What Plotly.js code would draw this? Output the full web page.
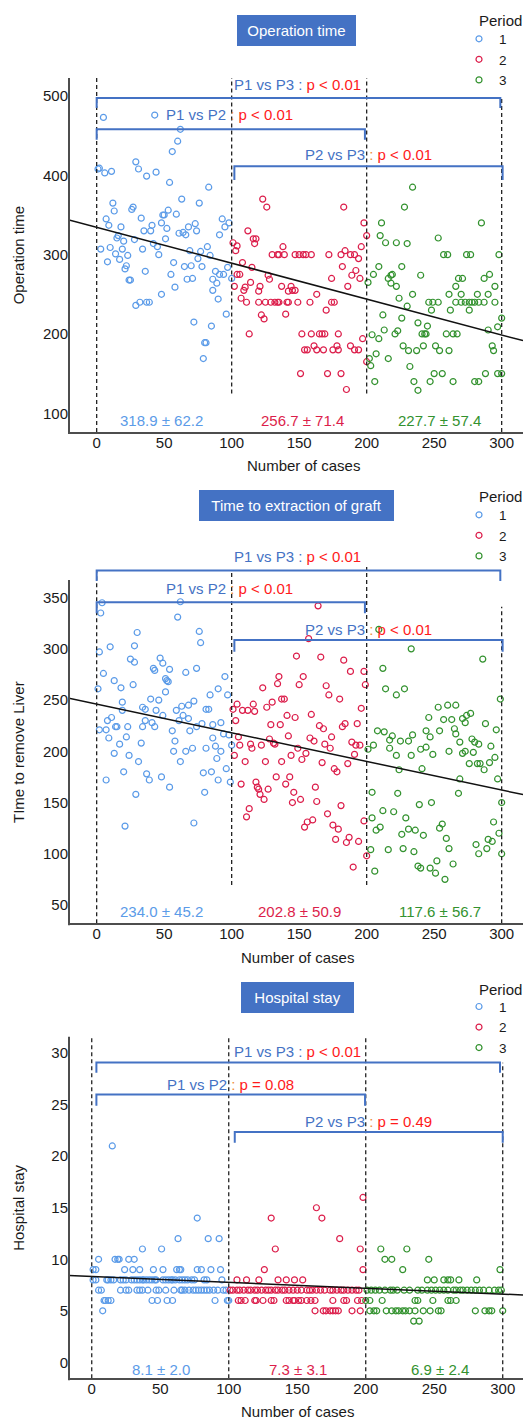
<!DOCTYPE html>
<html><head><meta charset="utf-8">
<script src="https://cdn.plot.ly/plotly-3.0.1.min.js"></script>
<style>html,body{margin:0;padding:0;background:#fff}#chart{width:523px;height:1419px}</style>
</head><body><div id="chart"></div>
<script>
// ---------------- DATA ----------------
const periods = ['1', '2', '3'];
const xTicks = [0, 50, 100, 150, 200, 250, 300];
const periodBounds = [0, 100, 200, 300];

const opTicks = [100, 200, 300, 400, 500];
const grTicks = [50, 100, 150, 200, 250, 300, 350];
const hsTicks = [0, 5, 10, 15, 20, 25, 30];

const opMeans = ['318.9 ± 62.2', '256.7 ± 71.4', '227.7 ± 57.4'];
const grMeans = ['234.0 ± 45.2', '202.8 ± 50.9', '117.6 ± 56.7'];
const hsMeans = ['8.1 ± 2.0', '7.3 ± 3.1', '6.9 ± 2.4'];

// p-values: P1 vs P3, P1 vs P2, P2 vs P3
const opPvals = ['< 0.01', '< 0.01', '< 0.01'];
const grPvals = ['< 0.01', '< 0.01', '< 0.01'];
const hsPvals = ['< 0.01', '= 0.08', '= 0.49'];
const comparisons = ['P1 vs P3', 'P1 vs P2', 'P2 vs P3'];

// regression line: [intercept, slope]
const opFit = [334.5, -0.4526];
const grFit = [246.0, -0.2795];
const hsFit = [8.32, -0.00567];

// Operation time: [case, minutes]
const opP1 = [[5,473],[43,476],[62,458],[60,443],[56,430],[29,417],[2,409],[1,408],[6,403],[11,405],[31,408],[37,399],[44,404],[54,391],[83,385],[63,370],[12,365],[27,360],[26,357],[13,355],[53,356],[50,350],[49,350],[59,351],[76,365],[33,346],[7,345],[9,337],[18,335],[48,340],[41,337],[35,330],[40,330],[52,333],[68,335],[73,339],[74,330],[93,345],[95,335],[98,340],[61,327],[64,328],[66,325],[91,325],[16,324],[15,321],[20,317],[28,319],[42,314],[51,320],[45,310],[3,307],[10,309],[34,307],[14,301],[19,307],[23,299],[17,294],[8,291],[46,300],[69,305],[77,304],[82,310],[84,299],[75,295],[57,290],[65,285],[70,286],[78,285],[22,286],[21,282],[36,279],[55,275],[67,269],[71,270],[24,268],[25,268],[88,279],[91,275],[94,275],[97,284],[86,269],[89,264],[58,259],[86,255],[90,244],[48,250],[32,240],[29,236],[37,240],[39,240],[96,225],[72,215],[85,210],[80,189],[81,189],[100,270],[79,169]];
const opP2 = [[123,370],[126,360],[183,360],[198,340],[200,324],[112,330],[116,320],[118,320],[117,314],[101,315],[104,311],[103,305],[138,310],[130,300],[134,300],[135,300],[139,300],[147,300],[150,300],[153,300],[155,300],[159,300],[172,300],[181,300],[184,305],[188,300],[191,300],[194,295],[196,310],[108,290],[115,284],[104,275],[106,275],[182,285],[192,280],[189,274],[195,270],[174,270],[127,274],[128,269],[114,265],[102,260],[110,259],[109,255],[121,260],[120,254],[137,260],[144,260],[145,255],[142,254],[147,255],[163,250],[186,260],[107,245],[111,240],[120,240],[125,240],[129,240],[132,240],[134,240],[135,240],[141,240],[142,240],[149,240],[158,240],[174,240],[176,240],[170,230],[122,224],[124,219],[140,225],[113,200],[152,200],[159,200],[165,200],[167,200],[169,200],[179,200],[197,194],[154,180],[156,180],[161,185],[163,180],[168,180],[175,180],[179,180],[178,185],[188,185],[191,180],[194,180],[200,165],[151,150],[171,150],[181,150],[185,130]];
const opP3 = [[234,385],[228,360],[211,340],[285,340],[210,324],[214,315],[222,315],[230,314],[253,321],[257,300],[260,300],[274,300],[277,300],[298,300],[209,285],[205,275],[226,285],[218,274],[219,275],[216,270],[218,264],[222,260],[240,274],[201,265],[268,270],[271,270],[287,270],[291,275],[266,260],[295,260],[224,245],[234,250],[261,250],[270,250],[282,250],[290,250],[230,235],[246,240],[249,240],[253,240],[266,240],[270,240],[273,240],[276,240],[278,240],[280,240],[283,240],[287,240],[295,240],[248,230],[262,230],[276,230],[212,224],[226,220],[238,214],[245,210],[300,220],[297,209],[290,205],[204,199],[209,194],[213,205],[221,200],[223,204],[241,200],[243,200],[244,200],[259,200],[264,200],[267,200],[227,185],[231,179],[237,179],[242,185],[251,185],[254,179],[261,179],[293,185],[294,179],[202,169],[203,160],[207,175],[216,169],[232,159],[250,150],[256,150],[288,150],[297,150],[300,150],[206,140],[235,140],[247,140],[264,140],[280,140],[283,140],[238,129]];

// Time to remove liver: [case, minutes]
const grP1 = [[4,345],[62,346],[3,335],[60,331],[30,316],[76,317],[77,306],[2,297],[10,302],[28,303],[25,290],[28,287],[47,291],[49,286],[42,281],[43,279],[54,280],[66,277],[74,281],[5,276],[13,269],[18,262],[27,265],[51,271],[52,269],[53,268],[95,273],[1,261],[51,258],[90,261],[84,255],[97,255],[40,251],[46,250],[72,249],[19,248],[34,243],[36,241],[44,240],[59,240],[63,244],[68,245],[81,241],[83,241],[19,240],[49,235],[64,235],[11,233],[8,230],[36,230],[41,228],[61,230],[68,232],[78,227],[86,226],[92,228],[2,221],[7,221],[14,224],[15,224],[23,224],[34,224],[43,224],[74,224],[9,213],[22,214],[56,220],[69,220],[86,213],[94,217],[98,216],[17,207],[33,208],[58,210],[81,203],[88,205],[100,206],[13,198],[24,196],[57,200],[66,200],[71,203],[92,200],[31,190],[62,190],[89,193],[20,180],[37,178],[39,172],[48,175],[79,179],[85,180],[96,183],[7,172],[90,172],[99,170],[54,165],[29,158],[80,160],[21,127],[72,130]];
const grP2 = [[164,342],[157,310],[148,293],[166,292],[183,289],[188,278],[198,278],[199,265],[135,273],[134,266],[153,273],[150,265],[123,262],[170,264],[172,255],[180,251],[137,251],[139,251],[130,248],[126,243],[116,246],[104,246],[108,240],[112,240],[117,239],[101,241],[196,242],[103,230],[141,235],[147,233],[159,236],[129,226],[136,226],[165,225],[168,222],[182,224],[184,227],[193,227],[105,214],[142,215],[158,213],[161,210],[174,214],[128,212],[131,208],[132,207],[106,206],[114,207],[115,203],[122,206],[149,203],[169,207],[173,203],[189,209],[192,206],[195,206],[155,198],[144,196],[102,196],[191,197],[152,192],[110,190],[125,190],[137,190],[167,189],[186,188],[176,183],[178,180],[133,175],[143,175],[107,168],[118,170],[119,165],[120,163],[121,158],[124,153],[127,163],[140,168],[162,165],[146,160],[151,153],[145,150],[163,151],[181,147],[113,144],[111,136],[171,139],[198,132],[160,133],[156,131],[154,126],[175,128],[179,124],[177,114],[187,116],[185,111],[194,112],[200,98],[190,87]];
const grP3 = [[209,319],[233,300],[286,290],[212,281],[214,261],[222,255],[228,261],[299,251],[253,243],[260,245],[266,245],[246,233],[257,231],[263,231],[271,232],[274,235],[277,237],[273,228],[288,227],[208,220],[213,219],[219,215],[217,211],[225,210],[231,210],[234,216],[244,220],[247,214],[254,220],[265,222],[266,217],[269,209],[278,212],[280,209],[283,207],[292,205],[296,221],[201,202],[205,206],[217,203],[240,202],[244,204],[222,196],[233,196],[249,197],[261,200],[271,198],[273,200],[279,199],[276,188],[282,188],[284,188],[291,189],[295,194],[287,182],[224,182],[241,183],[297,173],[269,173],[204,160],[223,159],[268,159],[239,148],[248,150],[300,150],[212,142],[220,141],[204,135],[229,135],[294,131],[207,123],[210,126],[231,124],[236,123],[226,119],[256,129],[254,125],[242,118],[259,115],[290,114],[298,120],[293,112],[281,109],[289,105],[261,105],[203,104],[216,104],[227,105],[235,102],[283,100],[300,100],[238,88],[240,86],[247,86],[252,93],[251,81],[264,90],[258,75],[206,83]];

// Hospital stay: [days, [cases...]]
const hsP1 = [[21,[15]],[14,[77]],[12,[63,85,93]],[11,[37,51]],[10,[5,17,19,20,27,31]],
  [9,[1,3,24,30,35,45,52,62,64,65,77,80,87,94]],
  [8,[1,3,11,12,14,16,21,23,25,29,31,33,35,37,38,40,42,44,46,47,52,54,56,58,59,61,64,66,68,70,73,75,82,84,95]],
  [7,[5,7,21,25,27,33,35,37,41,47,49,54,60,65,66,68,71,74,76,78,80,82,84,86,89,92,96,98]],
  [6,[9,10,12,14,44,48,55,59,90,99,100]],[5,[8]]];
const hsP2 = [[16,[198]],[15,[164]],[14,[131,168]],[12,[181]],[11,[134,196]],[9,[126,198]],
  [8,[106,113,122,136,142,148,154]],
  [7,[101,103,106,108,111,114,116,119,121,124,127,129,131,134,136,139,141,144,147,150,153,157,159,161,164,167,170,174,176,179,182,184,187,190,193,195]],
  [6,[107,109,112,119,120,125,131,133,142,144,147,148,151,153,157,160,163,176,184,186,194,197]],
  [5,[163,169,171,174,176,178,180,190,196]]];
const hsP3 = [[11,[211,230]],[10,[214,219,246]],[9,[227,298]],[8,[245,250,257,260,262,268,281]],
  [7,[201,204,207,210,214,218,220,223,228,232,238,241,245,248,251,254,257,260,264,266,269,271,274,277,280,283,286,290,294,297,299]],
  [6,[200,203,212,236,238,249,260,262,266]],
  [5,[203,206,208,215,219,222,224,227,229,232,236,242,247,253,255,280,287,290,292,300]],
  [4,[235,239]]];

// ---------------- STYLE / LAYOUT ----------------
const W = 523, H = 1419;
const FONT = 'Liberation Sans, Arial, Helvetica, sans-serif';
const COLORS = ['#5B9BE8', '#DC1E4B', '#33922F'];
const BLUE = '#4472C4';
const PRED = '#FF1A1A';
const ORANGE = '#F08A3C';
const TXT = '#1a1a1a';
const AXC = '#4d4d4d';

const rowsToPairs = rows => rows.flatMap(([v, cs]) => cs.map(c => [c, v]));

const panels = [
  { title: 'Operation time', ytitle: 'Operation time', series: [opP1, opP2, opP3],
    means: opMeans, pv: opPvals, fit: opFit, ticks: opTicks,
    yPix: [78, 432], yRange: [76.4, 522.7], xRange: [-20.5, 315.8], axisTop: 78,
    box: { cx: 296.5, cy: 30.5, w: 119 }, periodY: 21, legTop: 23.5,
    xTitle: { x: 303, y: 465.7 }, yTitleY: 255,
    vlines: [[76.4, 522.7], [125, 522.7], [125, 522.7], [76.4, 499]],
    brackets: [[0, 299, 497.5, 485], [0, 198.7, 458, 445], [102, 300.7, 411.3, 394]],
    labels: [[148.7, 515], [98.7, 477.3], [201, 426.5]],
    meanPos: [[48, 90.8], [152.7, 90.8], [254, 90.8]] },
  { title: 'Time to extraction of graft', ytitle: 'TIme to remove Liver', series: [grP1, grP2, grP3],
    means: grMeans, pv: grPvals, fit: grFit, ticks: grTicks,
    yPix: [545, 923.3], yRange: [32.1, 401.4], xRange: [-20.5, 315.8], axisTop: 580,
    box: { cx: 296.8, cy: 505.5, w: 195 }, periodY: 496.7, legTop: 499.5,
    xTitle: { x: 297, y: 957 }, yTitleY: 751.7,
    vlines: [[32.1, 377], [69.5, 377], [69.5, 380], [32.1, 341]],
    brackets: [[0, 299, 376.4, 366.3], [0, 198.7, 345.5, 334.8], [102, 300.7, 308.7, 297.3]],
    labels: [[148.7, 390], [98.7, 359.2], [201, 319.2]],
    meanPos: [[47.7, 43.5], [150, 43.5], [254.5, 43.5]] },
  { title: 'Hospital stay', ytitle: 'Hospital stay', series: [rowsToPairs(hsP1), rowsToPairs(hsP2), rowsToPairs(hsP3)],
    means: hsMeans, pv: hsPvals, fit: hsFit, ticks: hsTicks,
    yPix: [1036.7, 1378.3], yRange: [-1.55, 31.6], xRange: [-16.6, 314.8], axisTop: 1036.7,
    box: { cx: 297, cy: 997, w: 113 }, periodY: 989.3, legTop: 991.2,
    xTitle: { x: 297, y: 1411.5 }, yTitleY: 1207.5,
    vlines: [[-1.55, 31.6], [-1.55, 31.6], [-1.55, 31.6], [-1.55, 29.06]],
    brackets: [[3.4, 298, 29.1, 28.1], [3.4, 199.5, 26.0, 24.9], [104.4, 300, 22.36, 21.3]],
    labels: [[150.2, 30.2], [101.3, 27.0], [202.3, 23.4]],
    meanPos: [[50.8, -0.65], [150.8, -0.65], [254, -0.65]] }
];

const esc = s => s.replace(/</g, '&lt;');
const data = [], annotations = [], shapes = [];
const layout = {
  width: W, height: H,
  margin: { l: 0, r: 0, t: 0, b: 0, pad: 0, autoexpand: false },
  paper_bgcolor: '#ffffff', plot_bgcolor: '#ffffff',
  font: { family: FONT, size: 15, color: TXT },
  hovermode: false, showlegend: true,
  annotations, shapes
};

panels.forEach((pn, i) => {
  const k = i === 0 ? '' : String(i + 1);
  const xa = 'x' + k, ya = 'y' + k, legId = 'legend' + k;

  pn.series.forEach((pts, j) => {
    data.push({
      type: 'scatter', mode: 'markers', name: periods[j], legend: legId,
      x: pts.map(p => p[0]), y: pts.map(p => p[1]), xaxis: xa, yaxis: ya,
      marker: { symbol: 'circle-open', size: 6, color: COLORS[j], line: { width: 1.2, color: COLORS[j] } }
    });
  });
  const [b0, b1] = pn.fit;
  data.push({
    type: 'scatter', mode: 'lines', showlegend: false, xaxis: xa, yaxis: ya,
    x: pn.xRange, y: pn.xRange.map(x => b0 + b1 * x),
    line: { color: '#111111', width: 1.5 }
  });

  layout['xaxis' + k] = {
    domain: [69 / W, 1], range: pn.xRange, anchor: ya, tickvals: xTicks, ticks: '',
    showgrid: false, zeroline: false, showline: true, linecolor: AXC, linewidth: 2,
    ticklabelstandoff: -4,
    tickfont: { family: FONT, size: 15, color: TXT }, fixedrange: true
  };
  layout['yaxis' + k] = {
    domain: [1 - pn.yPix[1] / H, 1 - pn.yPix[0] / H], range: pn.yRange, anchor: xa,
    tickvals: pn.ticks, ticks: '', showgrid: false, zeroline: false, showline: false,
    tickfont: { family: FONT, size: 15, color: TXT }, fixedrange: true
  };
  layout[legId] = {
    x: 474 / W, xanchor: 'left', y: 1 - pn.legTop / H, yanchor: 'top',
    bgcolor: 'rgba(0,0,0,0)', borderwidth: 0, indentation: -15,
    font: { family: FONT, size: 13.5, color: TXT }, tracegroupgap: 0
  };
  // legend heading
  annotations.push({ xref: 'paper', yref: 'paper', x: 476.5 / W, y: 1 - pn.periodY / H,
    xanchor: 'left', yanchor: 'middle', text: 'Period', showarrow: false,
    font: { family: FONT, size: 15, color: TXT } });

  // y axis line (visible part only)
  shapes.push({ type: 'line', xref: 'paper', yref: 'paper', x0: 69 / W, x1: 69 / W,
    y0: 1 - (pn.yPix[1] + 2) / H, y1: 1 - pn.axisTop / H, line: { color: AXC, width: 2 } });
  // period boundary lines
  periodBounds.forEach((bx, j) => {
    shapes.push({ type: 'line', xref: xa, yref: ya, x0: bx, x1: bx, y0: pn.vlines[j][0], y1: pn.vlines[j][1],
      line: { color: '#222222', width: 1.3, dash: '4px,3px' } });
  });
  // comparison brackets
  pn.brackets.forEach(([x0, x1, yb, yl]) => {
    shapes.push({ type: 'path', xref: xa, yref: ya,
      path: `M${x0},${yl} L${x0},${yb} L${x1},${yb} L${x1},${yl}`,
      fillcolor: 'rgba(0,0,0,0)', line: { color: BLUE, width: 2 } });
  });
  // comparison labels
  pn.labels.forEach(([lx, ly], j) => {
    const txt = j === 0
      ? `<span style="color:${BLUE}">${comparisons[j]} : </span><span style="color:${PRED}">p ${esc(pn.pv[j])}</span>`
      : `<span style="color:${BLUE}">${comparisons[j]} </span><span style="color:${ORANGE}">:</span><span style="color:${PRED}"> p ${esc(pn.pv[j])}</span>`;
    annotations.push({ xref: xa, yref: ya, x: lx, y: ly, text: txt, showarrow: false,
      xanchor: 'center', yanchor: 'middle', font: { family: FONT, size: 15 } });
  });
  // period means
  pn.meanPos.forEach(([mx, my], j) => {
    annotations.push({ xref: xa, yref: ya, x: mx, y: my, text: pn.means[j], showarrow: false,
      xanchor: 'center', yanchor: 'middle', font: { family: FONT, size: 15, color: COLORS[j] } });
  });
  // title box
  annotations.push({ xref: 'paper', yref: 'paper', x: pn.box.cx / W, y: 1 - pn.box.cy / H,
    xanchor: 'center', yanchor: 'middle', text: pn.title, showarrow: false,
    bgcolor: BLUE, borderwidth: 0, borderpad: 0, width: pn.box.w, height: 31,
    font: { family: FONT, size: 15, color: '#ffffff' } });
  // axis titles
  annotations.push({ xref: 'paper', yref: 'paper', x: pn.xTitle.x / W, y: 1 - pn.xTitle.y / H,
    xanchor: 'center', yanchor: 'middle', text: 'Number of cases', showarrow: false,
    font: { family: FONT, size: 15, color: TXT } });
  annotations.push({ xref: 'paper', yref: 'paper', x: 18.3 / W, y: 1 - pn.yTitleY / H,
    xanchor: 'center', yanchor: 'middle', text: pn.ytitle, textangle: -90, showarrow: false,
    font: { family: FONT, size: 15, color: TXT } });
});

Plotly.newPlot('chart', data, layout, { displayModeBar: false, staticPlot: true });
</script></body></html>
